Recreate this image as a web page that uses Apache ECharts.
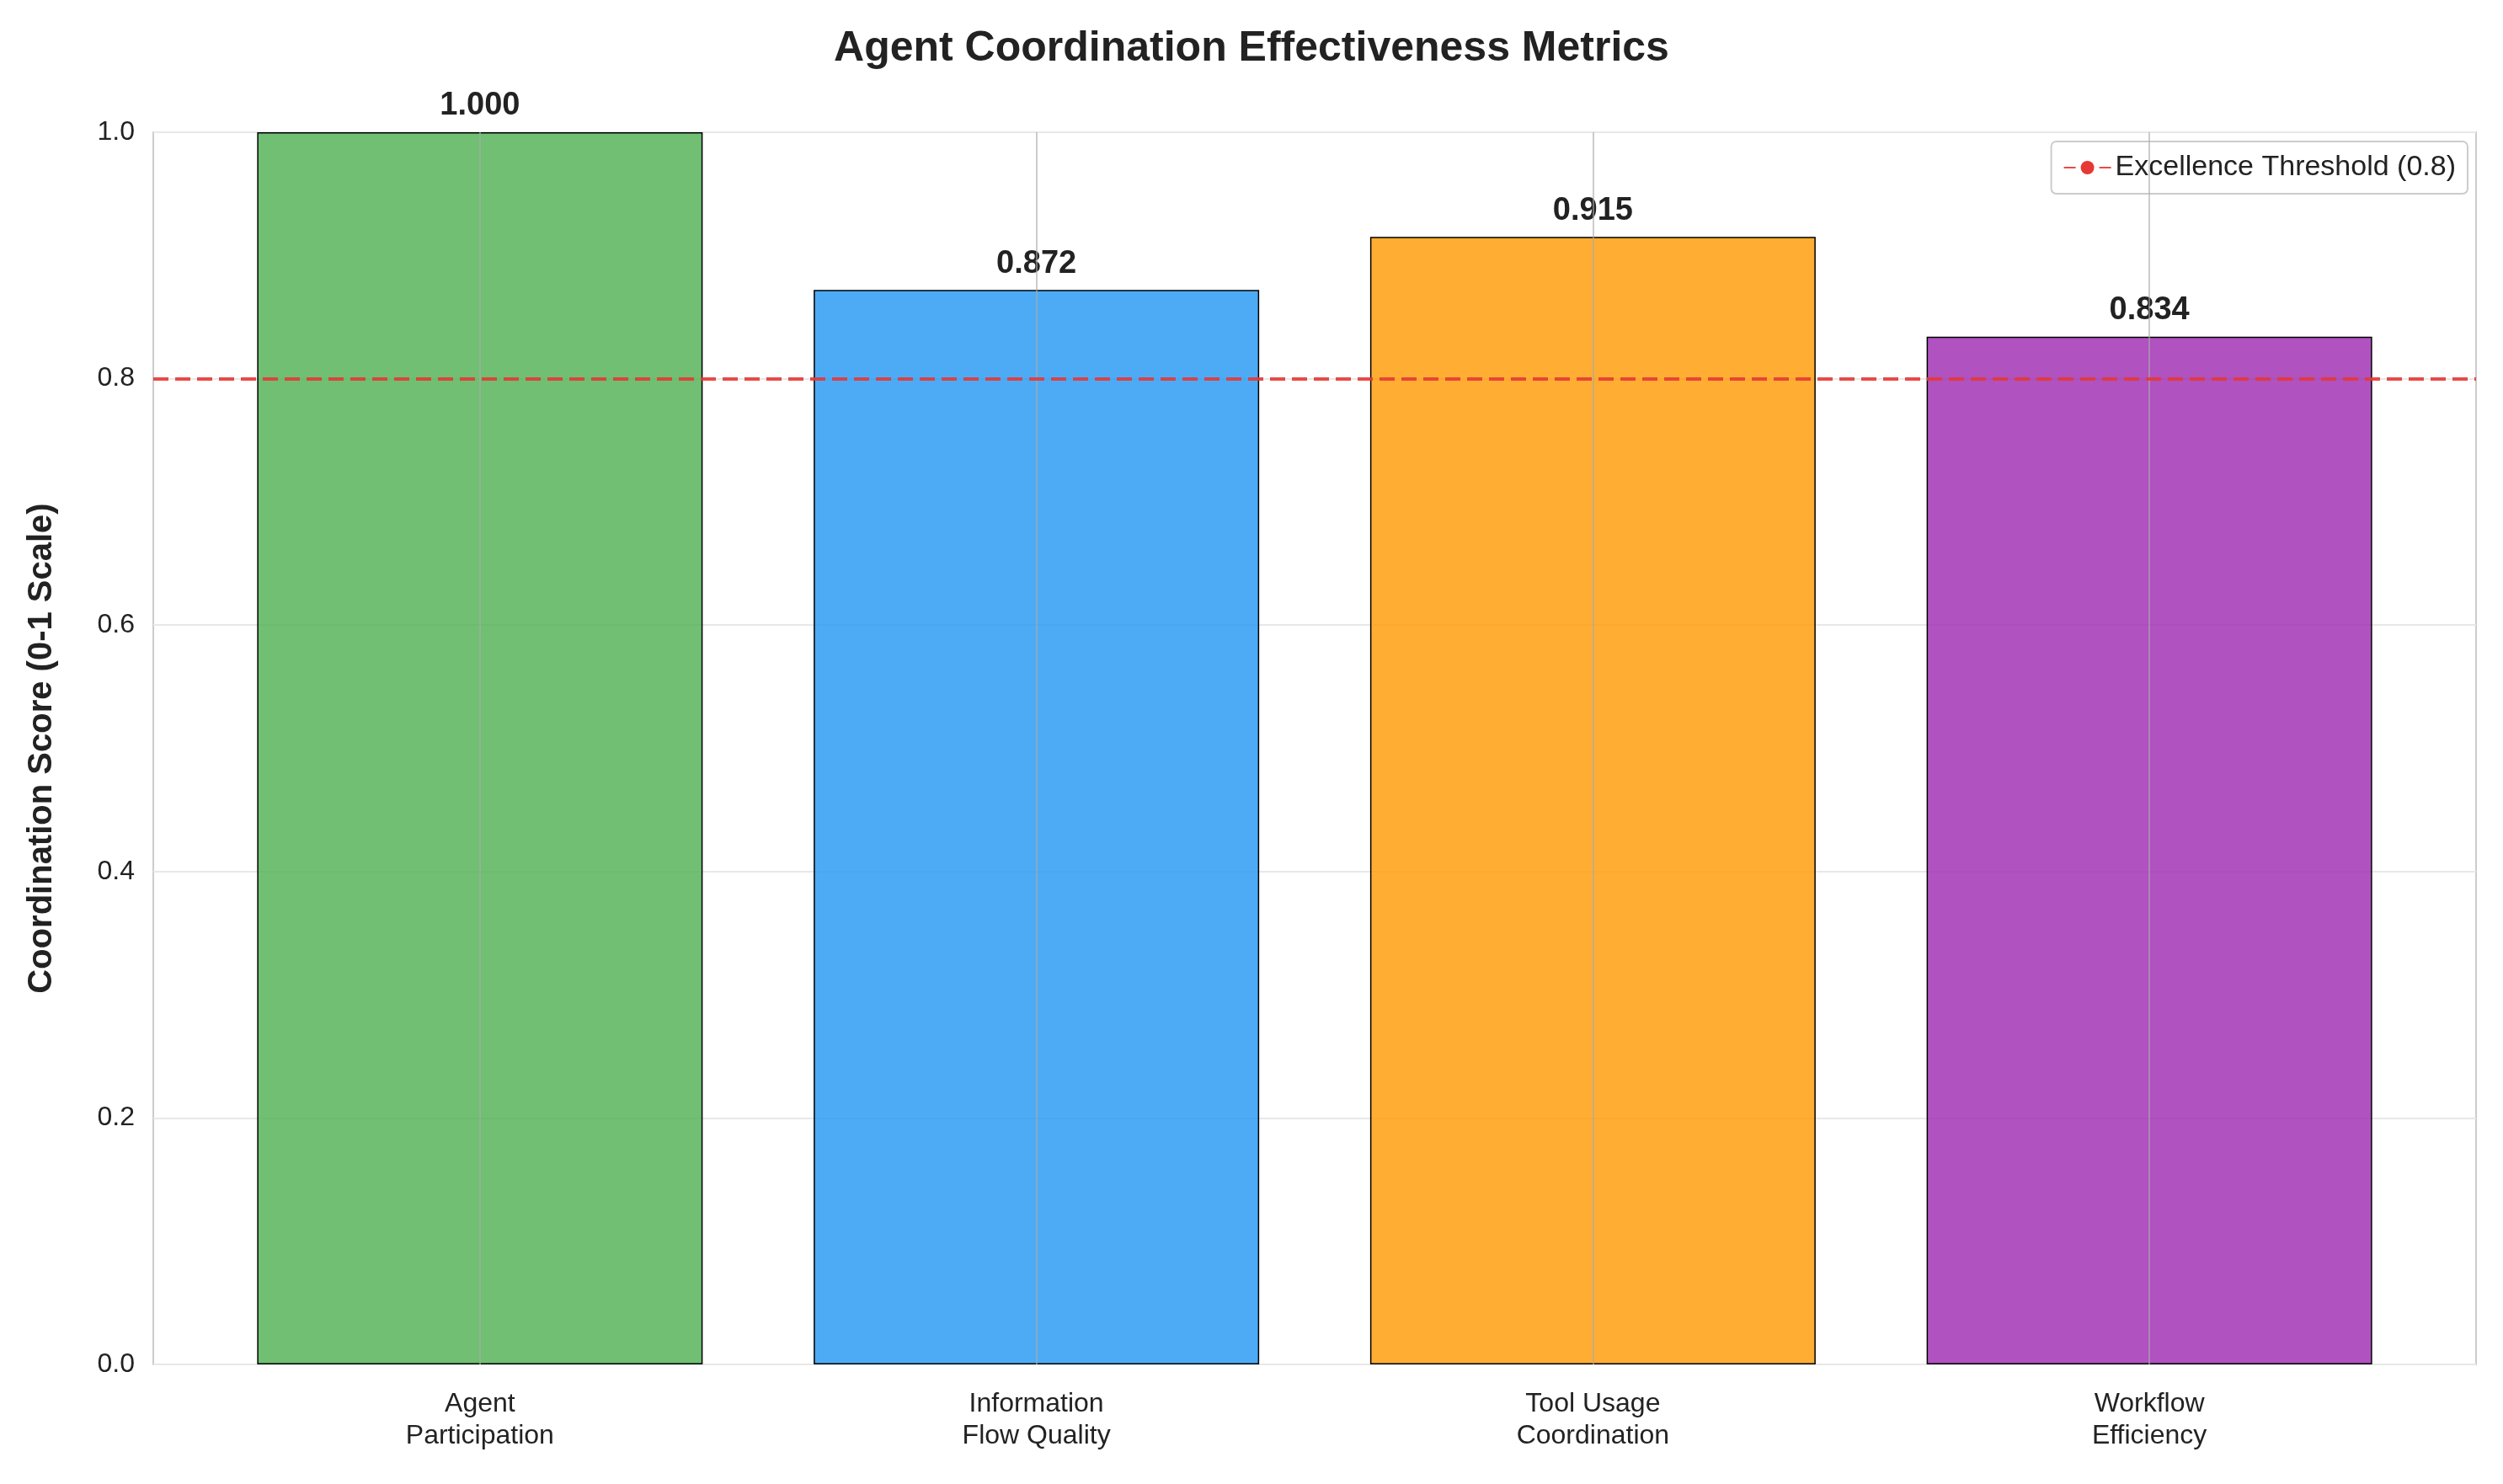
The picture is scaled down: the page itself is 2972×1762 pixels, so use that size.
<!DOCTYPE html>
<html><head><meta charset="utf-8">
<script src="https://cdn.jsdelivr.net/npm/echarts@6/dist/echarts.min.js"></script>
<style>html,body{margin:0;background:#fff}#c{width:2972px;height:1762px}</style>
</head><body><div id="c"></div>
<script>
var chart = echarts.init(document.getElementById('c'));

var categories = ['Agent\nParticipation', 'Information\nFlow Quality', 'Tool Usage\nCoordination', 'Workflow\nEfficiency'];
var scores = [1.000, 0.872, 0.915, 0.834];
var barColors = ['rgba(76,175,80,0.8)', 'rgba(33,150,243,0.8)', 'rgba(255,152,0,0.8)', 'rgba(156,39,176,0.8)'];
var threshold = 0.8;

var font = 'Liberation Sans, Arial, sans-serif';
var positions = categories.map(function (c, i) { return i; });

var option = {
    title: {
        text: 'Agent Coordination Effectiveness Metrics',
        left: 'center', top: 28,
        textStyle: { fontFamily: font, fontSize: 50, fontWeight: 'bold', color: '#222' }
    },
    legend: {
        top: 168, right: 42,
        data: [{ name: 'Excellence Threshold (0.8)' }],
        itemWidth: 56, itemHeight: 20, itemGap: 14,
        padding: [14, 14], borderColor: '#ccc', borderWidth: 2, borderRadius: 6,
        backgroundColor: '#fff',
        textStyle: { fontFamily: font, fontSize: 34, color: '#222' }
    },
    grid: { left: 182, right: 32, top: 157, bottom: 142, show: true, borderColor: '#ccc', borderWidth: 2 },
    xAxis: {
        type: 'value', min: -0.587, max: 3.587,
        axisTick: { show: false }, axisLine: { show: false }, splitLine: { show: false },
        axisLabel: {
            customValues: positions,
            fontFamily: font, fontSize: 32, color: '#222', lineHeight: 38, margin: 28,
            formatter: function (v) { return categories[Math.round(v)]; }
        }
    },
    yAxis: {
        type: 'value', min: 0, max: 1, interval: 0.2,
        name: 'Coordination Score (0-1 Scale)', nameLocation: 'middle', nameGap: 112,
        nameTextStyle: { fontFamily: font, fontSize: 40, fontWeight: 'bold', color: '#222' },
        axisLine: { show: false }, axisTick: { show: false },
        axisLabel: { fontFamily: font, fontSize: 32, color: '#222', margin: 22,
            formatter: function (v) { return v.toFixed(1); } },
        splitLine: { lineStyle: { color: '#e8e8e8', width: 2 } }
    },
    series: [
        {
            type: 'bar', barWidth: 529,
            data: scores.map(function (v, i) {
                return { value: [i, v], itemStyle: { color: barColors[i], borderColor: '#000', borderWidth: 1.5 } };
            }),
            label: {
                show: true, position: 'top', distance: 12,
                fontFamily: font, fontSize: 38, fontWeight: 'bold', color: '#222',
                formatter: function (p) { return p.value[1].toFixed(3); }
            }
        },
        {
            type: 'line', data: [], silent: true, z: 3,
            markLine: {
                symbol: 'none', silent: true, label: { show: false },
                lineStyle: { color: 'rgba(170,170,170,0.6)', width: 2, type: 'solid' },
                data: positions.map(function (p) { return { xAxis: p }; })
            }
        },
        {
            name: 'Excellence Threshold (0.8)', type: 'line', data: [],
            symbol: 'none', color: '#e53935',
            lineStyle: { color: '#e53935', type: [14, 7], width: 4, opacity: 0.9 },
            markLine: {
                symbol: 'none', silent: true, label: { show: false },
                lineStyle: { color: '#e53935', type: [18, 8], width: 4, opacity: 0.9 },
                data: [{ yAxis: threshold }]
            }
        }
    ]
};
chart.setOption(option);
</script></body></html>
